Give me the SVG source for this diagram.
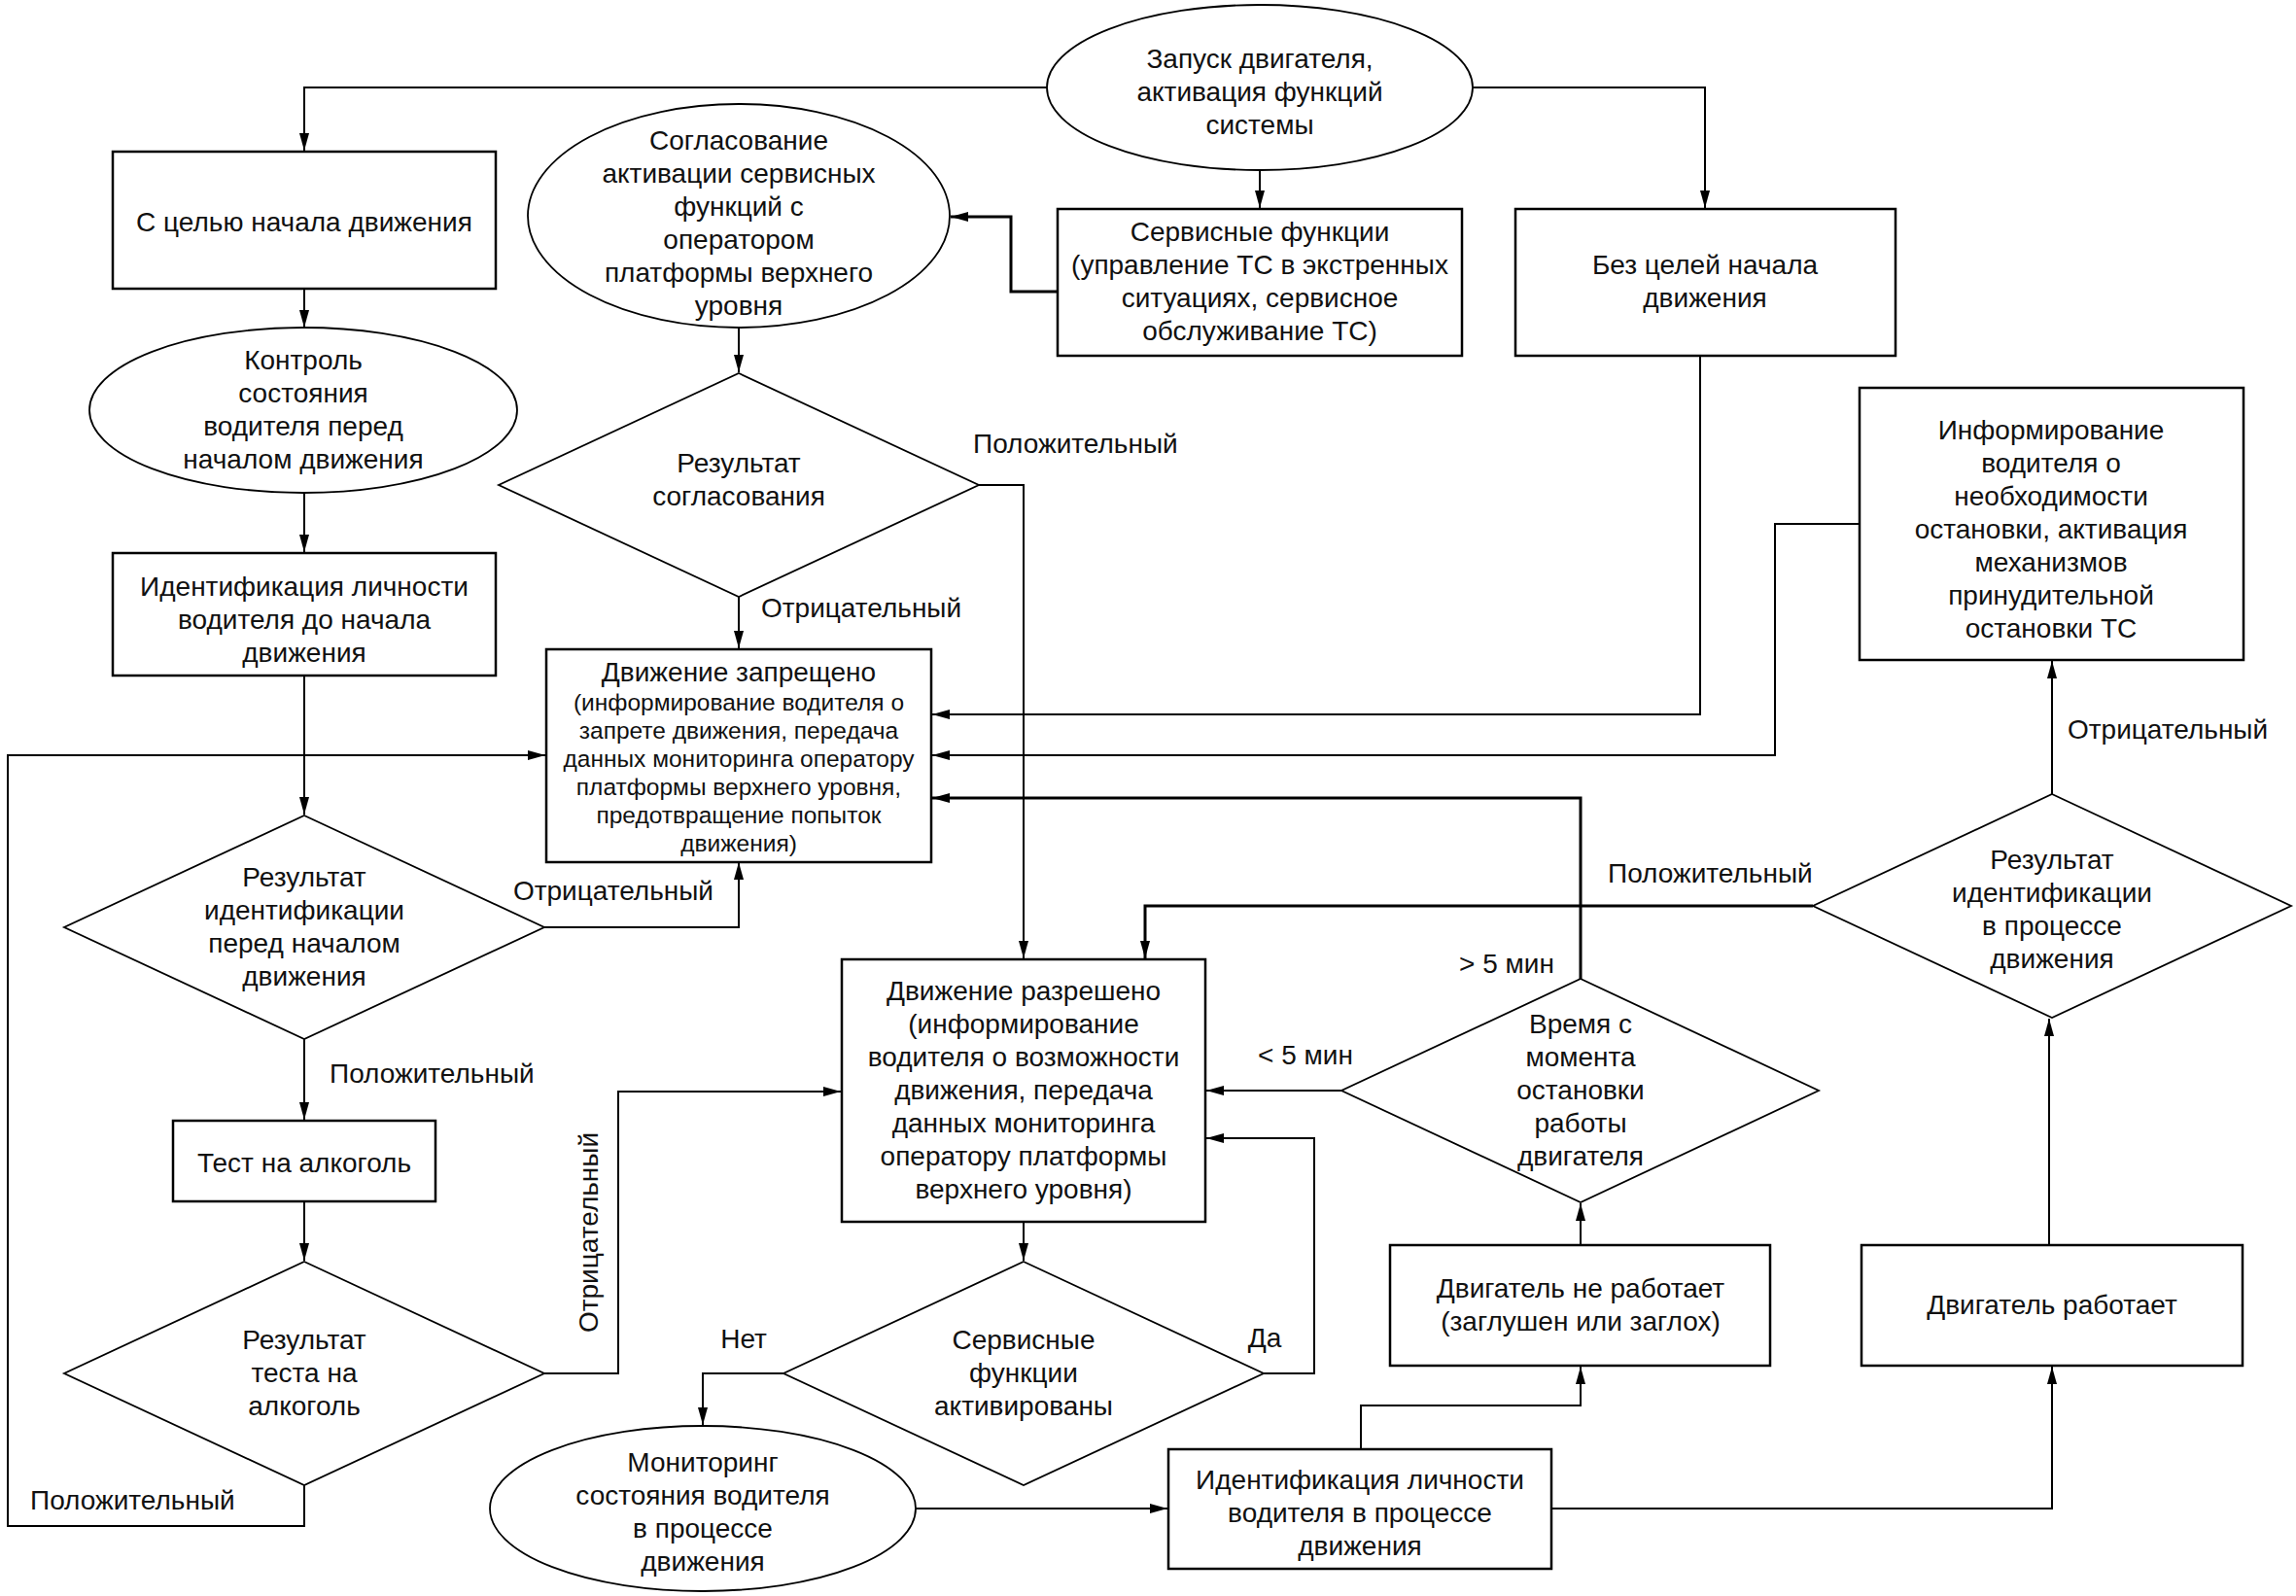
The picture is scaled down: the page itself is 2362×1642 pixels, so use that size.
<svg xmlns="http://www.w3.org/2000/svg" width="2362" height="1642" viewBox="0 0 2362 1642">
<style>
.bg{fill:#fff}
.box{fill:#fff;stroke:#000;stroke-width:2.5}
.shp{fill:#fff;stroke:#000;stroke-width:1.8}
.ln{fill:none;stroke:#000;stroke-width:2;marker-end:url(#ah)}
.thk{stroke-width:3}
text{font-family:"Liberation Sans",Arial,sans-serif;font-size:28px;fill:#111}
.c{text-anchor:middle}
.s{font-size:24.5px}
</style>
<defs>
<marker id="ah" markerUnits="userSpaceOnUse" markerWidth="20" markerHeight="12" refX="18" refY="6" orient="auto">
<path d="M0,1 L18,6 L0,11 z" fill="#000"/>
</marker>
</defs>
<rect class="bg" x="0" y="0" width="2362" height="1642"/>

<g id="connectors">
<path class="ln" d="M1077,90 H313 V155"/>
<path class="ln" d="M1296,175 V214"/>
<path class="ln" d="M1515,90 H1754 V214"/>
<path class="ln thk" d="M1088,300 H1040 V223 H978"/>
<path class="ln" d="M760,337 V383"/>
<path class="ln" d="M760,614 V667"/>
<path class="ln" d="M1007,499 H1053 V986"/>
<path class="ln" d="M313,297 V337"/>
<path class="ln" d="M313,507 V568"/>
<path class="ln" d="M313,695 V838"/>
<path class="ln" d="M560,954 H760 V887"/>
<path class="ln" d="M313,1069 V1152"/>
<path class="ln" d="M313,1236 V1297"/>
<path class="ln" d="M313,1528 V1570 H8 V777 H561"/>
<path class="ln" d="M560,1413 H636 V1123 H865"/>
<path class="ln" d="M1749,366 V735 H959"/>
<path class="ln" d="M1913,539 H1826 V777 H959"/>
<path class="ln thk" d="M1626,1007 V821 H959"/>
<path class="ln" d="M1380,1122 H1241"/>
<path class="ln thk" d="M1865,932 H1178 V986"/>
<path class="ln" d="M2111,817 V680"/>
<path class="ln" d="M2108,1281 V1048"/>
<path class="ln" d="M1596,1552 H2111 V1406"/>
<path class="ln" d="M1400,1491 V1446 H1626 V1406"/>
<path class="ln" d="M1626,1281 V1238"/>
<path class="ln" d="M1053,1257 V1297"/>
<path class="ln" d="M1300,1413 H1352 V1171 H1241"/>
<path class="ln" d="M806,1413 H723 V1466"/>
<path class="ln" d="M942,1552 H1201"/>
</g>

<g id="labels">
<text x="1001" y="466">Положительный</text>
<text x="783" y="635">Отрицательный</text>
<text x="734" y="926" text-anchor="end">Отрицательный</text>
<text x="339" y="1114">Положительный</text>
<text x="31" y="1553">Положительный</text>
<text x="606" y="1277" class="c" transform="rotate(-90 606 1268)">Отрицательный</text>
<text x="765" y="1387" class="c">Нет</text>
<text x="1301" y="1386" class="c">Да</text>
<text x="1343" y="1095" class="c">&lt; 5 мин</text>
<text x="1550" y="1001" class="c">&gt; 5 мин</text>
<text x="1654" y="908">Положительный</text>
<text x="2127" y="760">Отрицательный</text>
</g>

<g id="n-start">
<ellipse class="shp" cx="1296" cy="90" rx="219" ry="85"/>
<text class="c" x="1296" y="70">Запуск двигателя,</text>
<text class="c" x="1296" y="104">активация функций</text>
<text class="c" x="1296" y="138">системы</text>
</g>

<g id="n-goal">
<rect class="box" x="116" y="156" width="394" height="141"/>
<text class="c" x="313" y="238">С целью начала движения</text>
</g>

<g id="n-agree">
<ellipse class="shp" cx="760" cy="222" rx="217" ry="115"/>
<text class="c" x="760" y="154">Согласование</text>
<text class="c" x="760" y="188">активации сервисных</text>
<text class="c" x="760" y="222">функций с</text>
<text class="c" x="760" y="256">оператором</text>
<text class="c" x="760" y="290">платформы верхнего</text>
<text class="c" x="760" y="324">уровня</text>
</g>

<g id="n-service">
<rect class="box" x="1088" y="215" width="416" height="151"/>
<text class="c" x="1296" y="248">Сервисные функции</text>
<text class="c" x="1296" y="282">(управление ТС в экстренных</text>
<text class="c" x="1296" y="316">ситуациях, сервисное</text>
<text class="c" x="1296" y="350">обслуживание ТС)</text>
</g>

<g id="n-nogoal">
<rect class="box" x="1559" y="215" width="391" height="151"/>
<text class="c" x="1754" y="282">Без целей начала</text>
<text class="c" x="1754" y="316">движения</text>
</g>

<g id="n-control">
<ellipse class="shp" cx="312" cy="422" rx="220" ry="85"/>
<text class="c" x="312" y="380">Контроль</text>
<text class="c" x="312" y="414">состояния</text>
<text class="c" x="312" y="448">водителя перед</text>
<text class="c" x="312" y="482">началом движения</text>
</g>

<g id="n-agree-result">
<polygon class="shp" points="760,384 1007,499 760,614 513,499"/>
<text class="c" x="760" y="486">Результат</text>
<text class="c" x="760" y="520">согласования</text>
</g>

<g id="n-ident-before">
<rect class="box" x="116" y="569" width="394" height="126"/>
<text class="c" x="313" y="613">Идентификация личности</text>
<text class="c" x="313" y="647">водителя до начала</text>
<text class="c" x="313" y="681">движения</text>
</g>

<g id="n-inform">
<rect class="box" x="1913" y="399" width="395" height="280"/>
<text class="c" x="2110" y="452">Информирование</text>
<text class="c" x="2110" y="486">водителя о</text>
<text class="c" x="2110" y="520">необходимости</text>
<text class="c" x="2110" y="554">остановки, активация</text>
<text class="c" x="2110" y="588">механизмов</text>
<text class="c" x="2110" y="622">принудительной</text>
<text class="c" x="2110" y="656">остановки ТС</text>
</g>

<g id="n-forbidden">
<rect class="box" x="562" y="668" width="396" height="219"/>
<text class="c" x="760" y="701">Движение запрещено</text>
<text class="c s" x="760" y="731">(информирование водителя о</text>
<text class="c s" x="760" y="760">запрете движения, передача</text>
<text class="c s" x="760" y="789">данных мониторинга оператору</text>
<text class="c s" x="760" y="818">платформы верхнего уровня,</text>
<text class="c s" x="760" y="847">предотвращение попыток</text>
<text class="c s" x="760" y="876">движения)</text>
</g>

<g id="n-ident-before-result">
<polygon class="shp" points="313,839 560,954 313,1069 66,954"/>
<text class="c" x="313" y="912">Результат</text>
<text class="c" x="313" y="946">идентификации</text>
<text class="c" x="313" y="980">перед началом</text>
<text class="c" x="313" y="1014">движения</text>
</g>

<g id="n-ident-moving-result">
<polygon class="shp" points="2111,817 2357,932 2111,1047 1865,932"/>
<text class="c" x="2111" y="894">Результат</text>
<text class="c" x="2111" y="928">идентификации</text>
<text class="c" x="2111" y="962">в процессе</text>
<text class="c" x="2111" y="996">движения</text>
</g>

<g id="n-allowed">
<rect class="box" x="866" y="987" width="374" height="270"/>
<text class="c" x="1053" y="1029">Движение разрешено</text>
<text class="c" x="1053" y="1063">(информирование</text>
<text class="c" x="1053" y="1097">водителя о возможности</text>
<text class="c" x="1053" y="1131">движения, передача</text>
<text class="c" x="1053" y="1165">данных мониторинга</text>
<text class="c" x="1053" y="1199">оператору платформы</text>
<text class="c" x="1053" y="1233">верхнего уровня)</text>
</g>

<g id="n-time">
<polygon class="shp" points="1626,1007 1871,1122 1626,1237 1380,1122"/>
<text class="c" x="1626" y="1063">Время с</text>
<text class="c" x="1626" y="1097">момента</text>
<text class="c" x="1626" y="1131">остановки</text>
<text class="c" x="1626" y="1165">работы</text>
<text class="c" x="1626" y="1199">двигателя</text>
</g>

<g id="n-alco-test">
<rect class="box" x="178" y="1153" width="270" height="83"/>
<text class="c" x="313" y="1206">Тест на алкоголь</text>
</g>

<g id="n-alco-result">
<polygon class="shp" points="313,1298 560,1413 313,1528 66,1413"/>
<text class="c" x="313" y="1388">Результат</text>
<text class="c" x="313" y="1422">теста на</text>
<text class="c" x="313" y="1456">алкоголь</text>
</g>

<g id="n-service-active">
<polygon class="shp" points="1053,1298 1300,1413 1053,1528 806,1413"/>
<text class="c" x="1053" y="1388">Сервисные</text>
<text class="c" x="1053" y="1422">функции</text>
<text class="c" x="1053" y="1456">активированы</text>
</g>

<g id="n-engine-off">
<rect class="box" x="1430" y="1281" width="391" height="124"/>
<text class="c" x="1626" y="1335">Двигатель не работает</text>
<text class="c" x="1626" y="1369">(заглушен или заглох)</text>
</g>

<g id="n-engine-on">
<rect class="box" x="1915" y="1281" width="392" height="124"/>
<text class="c" x="2111" y="1352">Двигатель работает</text>
</g>

<g id="n-monitor">
<ellipse class="shp" cx="723" cy="1552" rx="219" ry="85"/>
<text class="c" x="723" y="1514">Мониторинг</text>
<text class="c" x="723" y="1548">состояния водителя</text>
<text class="c" x="723" y="1582">в процессе</text>
<text class="c" x="723" y="1616">движения</text>
</g>

<g id="n-ident-moving">
<rect class="box" x="1202" y="1491" width="394" height="123"/>
<text class="c" x="1399" y="1532">Идентификация личности</text>
<text class="c" x="1399" y="1566">водителя в процессе</text>
<text class="c" x="1399" y="1600">движения</text>
</g>
</svg>
